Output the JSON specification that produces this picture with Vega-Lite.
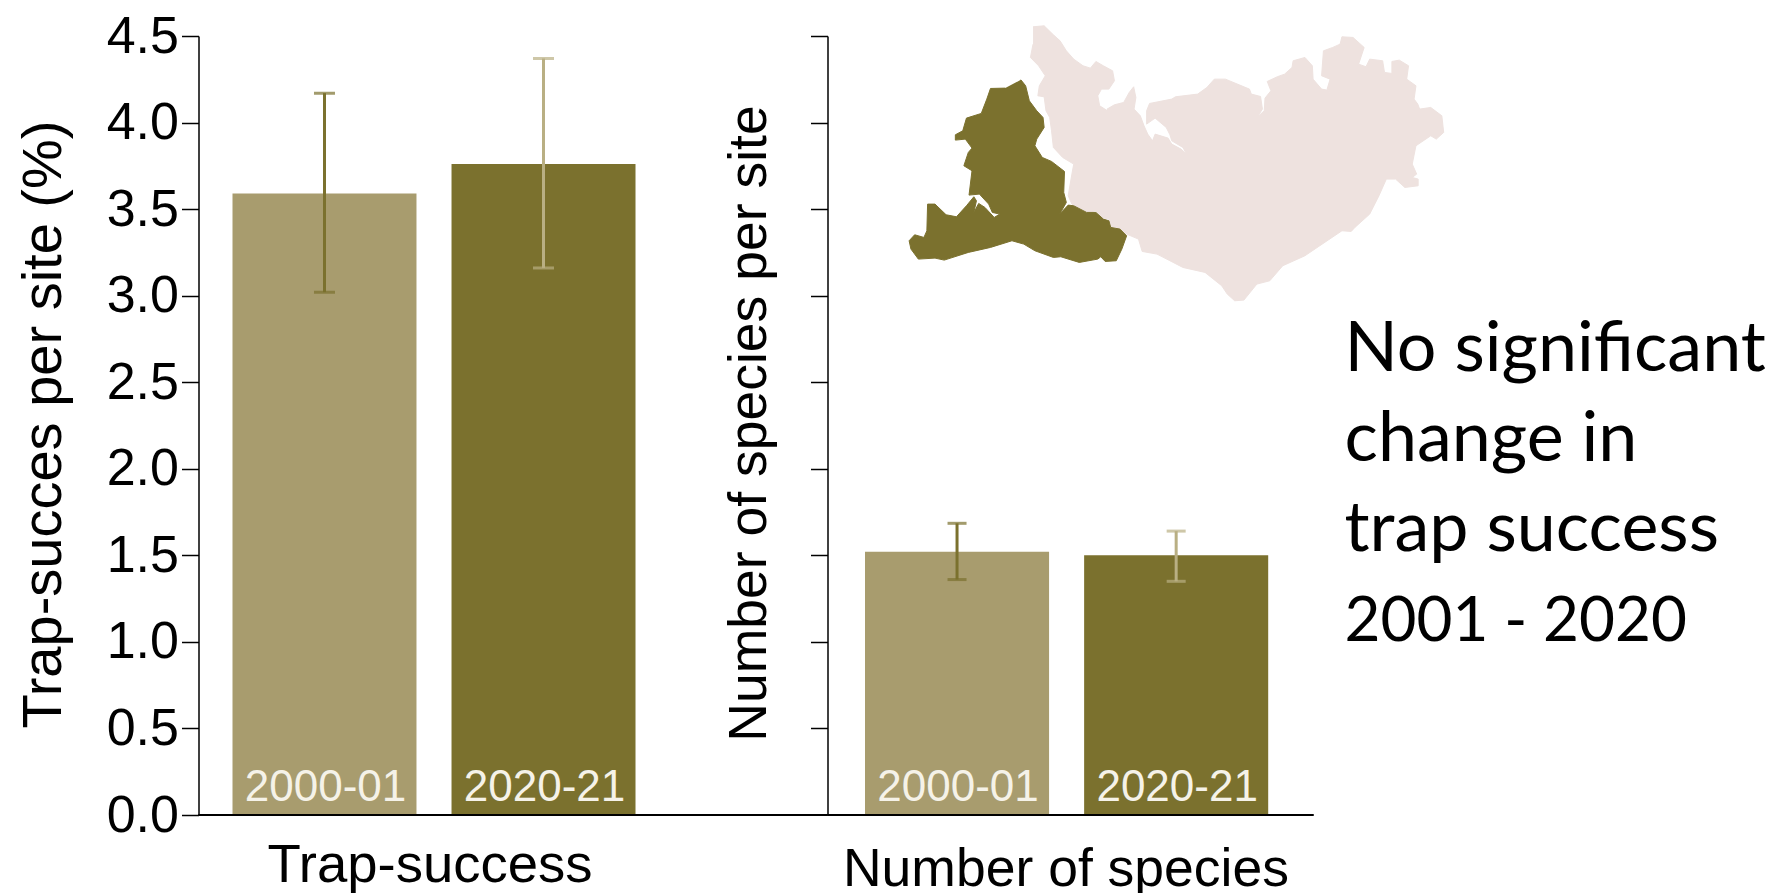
{"$schema":"https://vega.github.io/schema/vega-lite/v6.json","background":"white","padding":{"left":15.5,"top":10,"right":0,"bottom":0},"spacing":0,"bounds":"flush","config":{"view":{"stroke":null},"font":"Liberation Sans"},"datasets":{"bars":[{"panel":"Trap-success","period":"2000-01","mean":3.59,"low":3.02,"high":4.17},{"panel":"Trap-success","period":"2020-21","mean":3.76,"low":3.16,"high":4.37},{"panel":"Number of species","period":"2000-01","mean":1.52,"low":1.36,"high":1.685},{"panel":"Number of species","period":"2020-21","mean":1.5,"low":1.35,"high":1.64}],"pink":[{"i":1,"mx":415,"my":48},{"i":2,"mx":445,"my":45},{"i":3,"mx":470,"my":72},{"i":4,"mx":488,"my":90},{"i":5,"mx":505,"my":120},{"i":6,"mx":525,"my":145},{"i":7,"mx":550,"my":165},{"i":8,"mx":570,"my":172},{"i":9,"mx":585,"my":152},{"i":10,"mx":605,"my":165},{"i":11,"mx":630,"my":180},{"i":12,"mx":635,"my":210},{"i":13,"mx":620,"my":235},{"i":14,"mx":600,"my":235},{"i":15,"mx":590,"my":255},{"i":16,"mx":595,"my":285},{"i":17,"mx":612,"my":297},{"i":18,"mx":625,"my":310},{"i":19,"mx":642,"my":320},{"i":20,"mx":618,"my":305},{"i":21,"mx":615,"my":295},{"i":22,"mx":635,"my":282},{"i":23,"mx":660,"my":275},{"i":24,"mx":675,"my":245},{"i":25,"mx":687,"my":228},{"i":26,"mx":693,"my":260},{"i":27,"mx":688,"my":295},{"i":28,"mx":705,"my":315},{"i":29,"mx":715,"my":345},{"i":30,"mx":725,"my":370},{"i":31,"mx":738,"my":390},{"i":32,"mx":745,"my":370},{"i":33,"mx":780,"my":382},{"i":34,"mx":790,"my":400},{"i":35,"mx":815,"my":415},{"i":36,"mx":830,"my":430},{"i":37,"mx":820,"my":410},{"i":38,"mx":790,"my":390},{"i":39,"mx":785,"my":372},{"i":40,"mx":775,"my":350},{"i":41,"mx":745,"my":322},{"i":42,"mx":722,"my":340},{"i":43,"mx":722,"my":300},{"i":44,"mx":730,"my":278},{"i":45,"mx":790,"my":265},{"i":46,"mx":800,"my":258},{"i":47,"mx":860,"my":250},{"i":48,"mx":885,"my":230},{"i":49,"mx":905,"my":205},{"i":50,"mx":935,"my":205},{"i":51,"mx":1000,"my":235},{"i":52,"mx":1005,"my":250},{"i":53,"mx":1030,"my":257},{"i":54,"mx":1035,"my":295},{"i":55,"mx":1022,"my":318},{"i":56,"mx":1040,"my":300},{"i":57,"mx":1042,"my":262},{"i":58,"mx":1058,"my":240},{"i":59,"mx":1048,"my":212},{"i":60,"mx":1075,"my":198},{"i":61,"mx":1095,"my":190},{"i":62,"mx":1115,"my":170},{"i":63,"mx":1118,"my":150},{"i":64,"mx":1150,"my":140},{"i":65,"mx":1170,"my":165},{"i":66,"mx":1172,"my":205},{"i":67,"mx":1195,"my":235},{"i":68,"mx":1210,"my":238},{"i":69,"mx":1230,"my":272},{"i":70,"mx":1210,"my":235},{"i":71,"mx":1218,"my":205},{"i":72,"mx":1195,"my":195},{"i":73,"mx":1200,"my":120},{"i":74,"mx":1225,"my":110},{"i":75,"mx":1245,"my":100},{"i":76,"mx":1250,"my":78},{"i":77,"mx":1280,"my":80},{"i":78,"mx":1310,"my":110},{"i":79,"mx":1295,"my":160},{"i":80,"mx":1315,"my":168},{"i":81,"mx":1325,"my":145},{"i":82,"mx":1360,"my":150},{"i":83,"mx":1365,"my":185},{"i":84,"mx":1385,"my":188},{"i":85,"mx":1385,"my":152},{"i":86,"mx":1405,"my":148},{"i":87,"mx":1430,"my":165},{"i":88,"mx":1425,"my":205},{"i":89,"mx":1450,"my":225},{"i":90,"mx":1445,"my":265},{"i":91,"mx":1455,"my":280},{"i":92,"mx":1460,"my":295},{"i":93,"mx":1490,"my":290},{"i":94,"mx":1520,"my":315},{"i":95,"mx":1525,"my":365},{"i":96,"mx":1505,"my":385},{"i":97,"mx":1490,"my":375},{"i":98,"mx":1450,"my":405},{"i":99,"mx":1440,"my":460},{"i":100,"mx":1452,"my":490},{"i":101,"mx":1440,"my":500},{"i":102,"mx":1456,"my":505},{"i":103,"mx":1456,"my":525},{"i":104,"mx":1420,"my":530},{"i":105,"mx":1395,"my":505},{"i":106,"mx":1370,"my":505},{"i":107,"mx":1350,"my":555},{"i":108,"mx":1325,"my":610},{"i":109,"mx":1285,"my":650},{"i":110,"mx":1275,"my":662},{"i":111,"mx":1250,"my":660},{"i":112,"mx":1190,"my":705},{"i":113,"mx":1150,"my":735},{"i":114,"mx":1090,"my":765},{"i":115,"mx":1055,"my":810},{"i":116,"mx":1020,"my":820},{"i":117,"mx":985,"my":868},{"i":118,"mx":960,"my":870},{"i":119,"mx":940,"my":850},{"i":120,"mx":925,"my":825},{"i":121,"mx":880,"my":785},{"i":122,"mx":820,"my":770},{"i":123,"mx":750,"my":730},{"i":124,"mx":710,"my":722},{"i":125,"mx":700,"my":685},{"i":126,"mx":668,"my":670},{"i":127,"mx":640,"my":650},{"i":128,"mx":622,"my":650},{"i":129,"mx":620,"my":625},{"i":130,"mx":600,"my":620},{"i":131,"mx":585,"my":600},{"i":132,"mx":565,"my":605},{"i":133,"mx":520,"my":580},{"i":134,"mx":510,"my":555},{"i":135,"mx":520,"my":490},{"i":136,"mx":525,"my":460},{"i":137,"mx":495,"my":440},{"i":138,"mx":470,"my":410},{"i":139,"mx":465,"my":360},{"i":140,"mx":460,"my":320},{"i":141,"mx":450,"my":300},{"i":142,"mx":445,"my":258},{"i":143,"mx":428,"my":255},{"i":144,"mx":432,"my":225},{"i":145,"mx":448,"my":195},{"i":146,"mx":430,"my":165},{"i":147,"mx":408,"my":140},{"i":148,"mx":415,"my":100}],"olive":[{"i":1,"mx":382,"my":207},{"i":2,"mx":395,"my":225},{"i":3,"mx":405,"my":270},{"i":4,"mx":425,"my":300},{"i":5,"mx":442,"my":320},{"i":6,"mx":445,"my":350},{"i":7,"mx":425,"my":385},{"i":8,"mx":420,"my":405},{"i":9,"mx":440,"my":440},{"i":10,"mx":465,"my":452},{"i":11,"mx":500,"my":482},{"i":12,"mx":498,"my":545},{"i":13,"mx":505,"my":575},{"i":14,"mx":487,"my":610},{"i":15,"mx":510,"my":583},{"i":16,"mx":525,"my":585},{"i":17,"mx":560,"my":605},{"i":18,"mx":585,"my":605},{"i":19,"mx":605,"my":625},{"i":20,"mx":620,"my":630},{"i":21,"mx":625,"my":650},{"i":22,"mx":650,"my":655},{"i":23,"mx":668,"my":675},{"i":24,"mx":655,"my":715},{"i":25,"mx":640,"my":750},{"i":26,"mx":610,"my":752},{"i":27,"mx":598,"my":738},{"i":28,"mx":590,"my":745},{"i":29,"mx":540,"my":755},{"i":30,"mx":490,"my":738},{"i":31,"mx":470,"my":740},{"i":32,"mx":420,"my":720},{"i":33,"mx":390,"my":700},{"i":34,"mx":358,"my":690},{"i":35,"mx":300,"my":710},{"i":36,"mx":240,"my":725},{"i":37,"mx":175,"my":748},{"i":38,"mx":150,"my":742},{"i":39,"mx":105,"my":745},{"i":40,"mx":85,"my":715},{"i":41,"mx":80,"my":690},{"i":42,"mx":95,"my":672},{"i":43,"mx":120,"my":680},{"i":44,"mx":128,"my":660},{"i":45,"mx":130,"my":580},{"i":46,"mx":150,"my":580},{"i":47,"mx":180,"my":612},{"i":48,"mx":208,"my":618},{"i":49,"mx":235,"my":585},{"i":50,"mx":255,"my":558},{"i":51,"mx":262,"my":570},{"i":52,"mx":255,"my":605},{"i":53,"mx":268,"my":578},{"i":54,"mx":285,"my":590},{"i":55,"mx":310,"my":620},{"i":56,"mx":325,"my":610},{"i":57,"mx":305,"my":605},{"i":58,"mx":295,"my":580},{"i":59,"mx":270,"my":550},{"i":60,"mx":242,"my":553},{"i":61,"mx":250,"my":480},{"i":62,"mx":228,"my":465},{"i":63,"mx":240,"my":425},{"i":64,"mx":250,"my":412},{"i":65,"mx":232,"my":385},{"i":66,"mx":205,"my":388},{"i":67,"mx":205,"my":372},{"i":68,"mx":225,"my":360},{"i":69,"mx":235,"my":322},{"i":70,"mx":275,"my":308},{"i":71,"mx":290,"my":265},{"i":72,"mx":300,"my":233},{"i":73,"mx":340,"my":232}],"note":[{"txt":"No significant","col":0,"row":1},{"txt":"change in","col":0,"row":2},{"txt":"trap success","col":0,"row":3},{"txt":"2001 - 2020","col":0,"row":4}]},"hconcat":[{"width":629,"height":779,"data":{"name":"bars"},"transform":[{"filter":"datum.panel === 'Trap-success'"}],"encoding":{"x":{"field":"period","type":"nominal","scale":{"type":"band","domain":["2000-01","2020-21"],"range":[34,437],"paddingInner":0.16,"paddingOuter":0},"axis":{"title":"Trap-success","labels":false,"ticks":false,"domain":false,"titleFont":"Liberation Sans","titleFontSize":54.5,"titleFontWeight":"normal","titleColor":"#000","titleX":231,"titleY":66,"titleBaseline":"alphabetic","titleAnchor":null,"grid":false}}},"layer":[{"mark":{"type":"bar"},"encoding":{"y":{"field":"mean","type":"quantitative","scale":{"domain":[0,4.5],"nice":false},"axis":{"title":"Trap-succes per site (%)","grid":false,"values":[0,0.5,1,1.5,2,2.5,3,3.5,4,4.5],"format":".1f","tickSize":17,"tickWidth":1.5,"tickColor":"#000","domainColor":"#000","domainWidth":1.5,"labelFont":"Liberation Sans","labelFontSize":52,"labelColor":"#000","labelPadding":3,"labelOverlap":false,"labelBound":false,"titleFont":"Liberation Sans","titleFontSize":56,"titleFontWeight":"normal","titleColor":"#000","titleAngle":-90,"titleX":-138,"titleY":388,"titleBaseline":"alphabetic","titleAlign":"center"}},"fill":{"field":"period","type":"nominal","scale":{"domain":["2000-01","2020-21"],"range":["#A89C6E","#7B712E"]},"legend":null}}},{"mark":{"type":"rule","strokeWidth":3},"encoding":{"y":{"field":"low","type":"quantitative"},"y2":{"field":"high"},"color":{"field":"period","type":"nominal","scale":{"domain":["2000-01","2020-21"],"range":["#7B712E","#B9AF83"]},"legend":null}}},{"mark":{"type":"tick","size":21,"thickness":3},"encoding":{"y":{"field":"low","type":"quantitative"},"color":{"field":"period","type":"nominal","legend":null}}},{"mark":{"type":"tick","size":21,"thickness":3},"encoding":{"y":{"field":"high","type":"quantitative"},"color":{"field":"period","type":"nominal","legend":null}}},{"mark":{"type":"text","font":"Liberation Sans","fontSize":44,"color":"#F5F2E8","dx":1,"dy":-14,"baseline":"alphabetic"},"encoding":{"y":{"datum":0,"type":"quantitative"},"text":{"field":"period"}}},{"mark":{"type":"rule","stroke":"#000","strokeWidth":2},"encoding":{"x":null,"y":{"datum":0,"type":"quantitative"}}}]},{"width":486,"height":779,"layer":[{"data":{"name":"bars"},"transform":[{"filter":"datum.panel === 'Number of species'"}],"encoding":{"x":{"field":"period","type":"nominal","scale":{"type":"band","domain":["2000-01","2020-21"],"range":[37.5,440.7],"paddingInner":0.16,"paddingOuter":0},"axis":{"title":"Number of species","labels":false,"ticks":false,"domain":false,"titleFont":"Liberation Sans","titleFontSize":53.5,"titleFontWeight":"normal","titleColor":"#000","titleX":238,"titleY":70,"titleBaseline":"alphabetic","titleAnchor":null,"grid":false}}},"layer":[{"mark":{"type":"bar"},"encoding":{"y":{"field":"mean","type":"quantitative","scale":{"domain":[0,4.5],"nice":false},"axis":{"title":"Number of species per site","grid":false,"labels":false,"values":[0.5,1,1.5,2,2.5,3,3.5,4,4.5],"tickSize":17,"tickWidth":1.5,"tickColor":"#000","domainColor":"#000","domainWidth":1.5,"titleFont":"Liberation Sans","titleFontSize":53.5,"titleFontWeight":"normal","titleColor":"#000","titleAngle":-90,"titleX":-62,"titleY":387,"titleBaseline":"alphabetic","titleAlign":"center"}},"fill":{"field":"period","type":"nominal","scale":{"domain":["2000-01","2020-21"],"range":["#A89C6E","#7B712E"]},"legend":null}}},{"mark":{"type":"rule","strokeWidth":3},"encoding":{"y":{"field":"low","type":"quantitative"},"y2":{"field":"high"},"color":{"field":"period","type":"nominal","scale":{"domain":["2000-01","2020-21"],"range":["#7B712E","#B9AF83"]},"legend":null}}},{"mark":{"type":"tick","size":19,"thickness":3},"encoding":{"y":{"field":"low","type":"quantitative"},"color":{"field":"period","type":"nominal","legend":null}}},{"mark":{"type":"tick","size":19,"thickness":3},"encoding":{"y":{"field":"high","type":"quantitative"},"color":{"field":"period","type":"nominal","legend":null}}},{"mark":{"type":"text","font":"Liberation Sans","fontSize":44,"color":"#F5F2E8","dx":1,"dy":-14,"baseline":"alphabetic"},"encoding":{"y":{"datum":0,"type":"quantitative"},"text":{"field":"period"}}},{"mark":{"type":"rule","stroke":"#000","strokeWidth":2},"encoding":{"x":null,"y":{"datum":0,"type":"quantitative"}}}]},{"layer":[{"data":{"name":"pink"},"mark":{"type":"line","fill":"#EEE2DF","stroke":"#EEE2DF","strokeWidth":1,"clip":false},"encoding":{"x":{"field":"mx","type":"quantitative","scale":{"domain":[-140.6,1173.1],"nice":false,"zero":false},"axis":null},"y":{"field":"my","type":"quantitative","scale":{"domain":[2413,75.6],"nice":false,"zero":false},"axis":null},"order":{"field":"i","type":"quantitative"}}},{"data":{"name":"olive"},"mark":{"type":"line","fill":"#7B712E","stroke":"#7B712E","strokeWidth":1,"clip":false},"encoding":{"x":{"field":"mx","type":"quantitative","axis":null},"y":{"field":"my","type":"quantitative","axis":null},"order":{"field":"i","type":"quantitative"}}}]}],"resolve":{"scale":{"x":"independent","y":"independent"},"axis":{"x":"independent","y":"independent"}}},{"width":467,"height":779,"data":{"name":"note"},"mark":{"type":"text","font":"Lato","align":"left","baseline":"alphabetic","color":"#000"},"encoding":{"x":{"field":"col","type":"quantitative","scale":{"domain":[-31,436],"nice":false,"zero":false},"axis":null},"y":{"field":"row","type":"quantitative","scale":{"domain":[5.933,-2.722],"nice":false,"zero":false},"axis":null},"text":{"field":"txt"},"size":{"condition":{"test":"datum.row === 4","value":62},"value":70}}}]}
